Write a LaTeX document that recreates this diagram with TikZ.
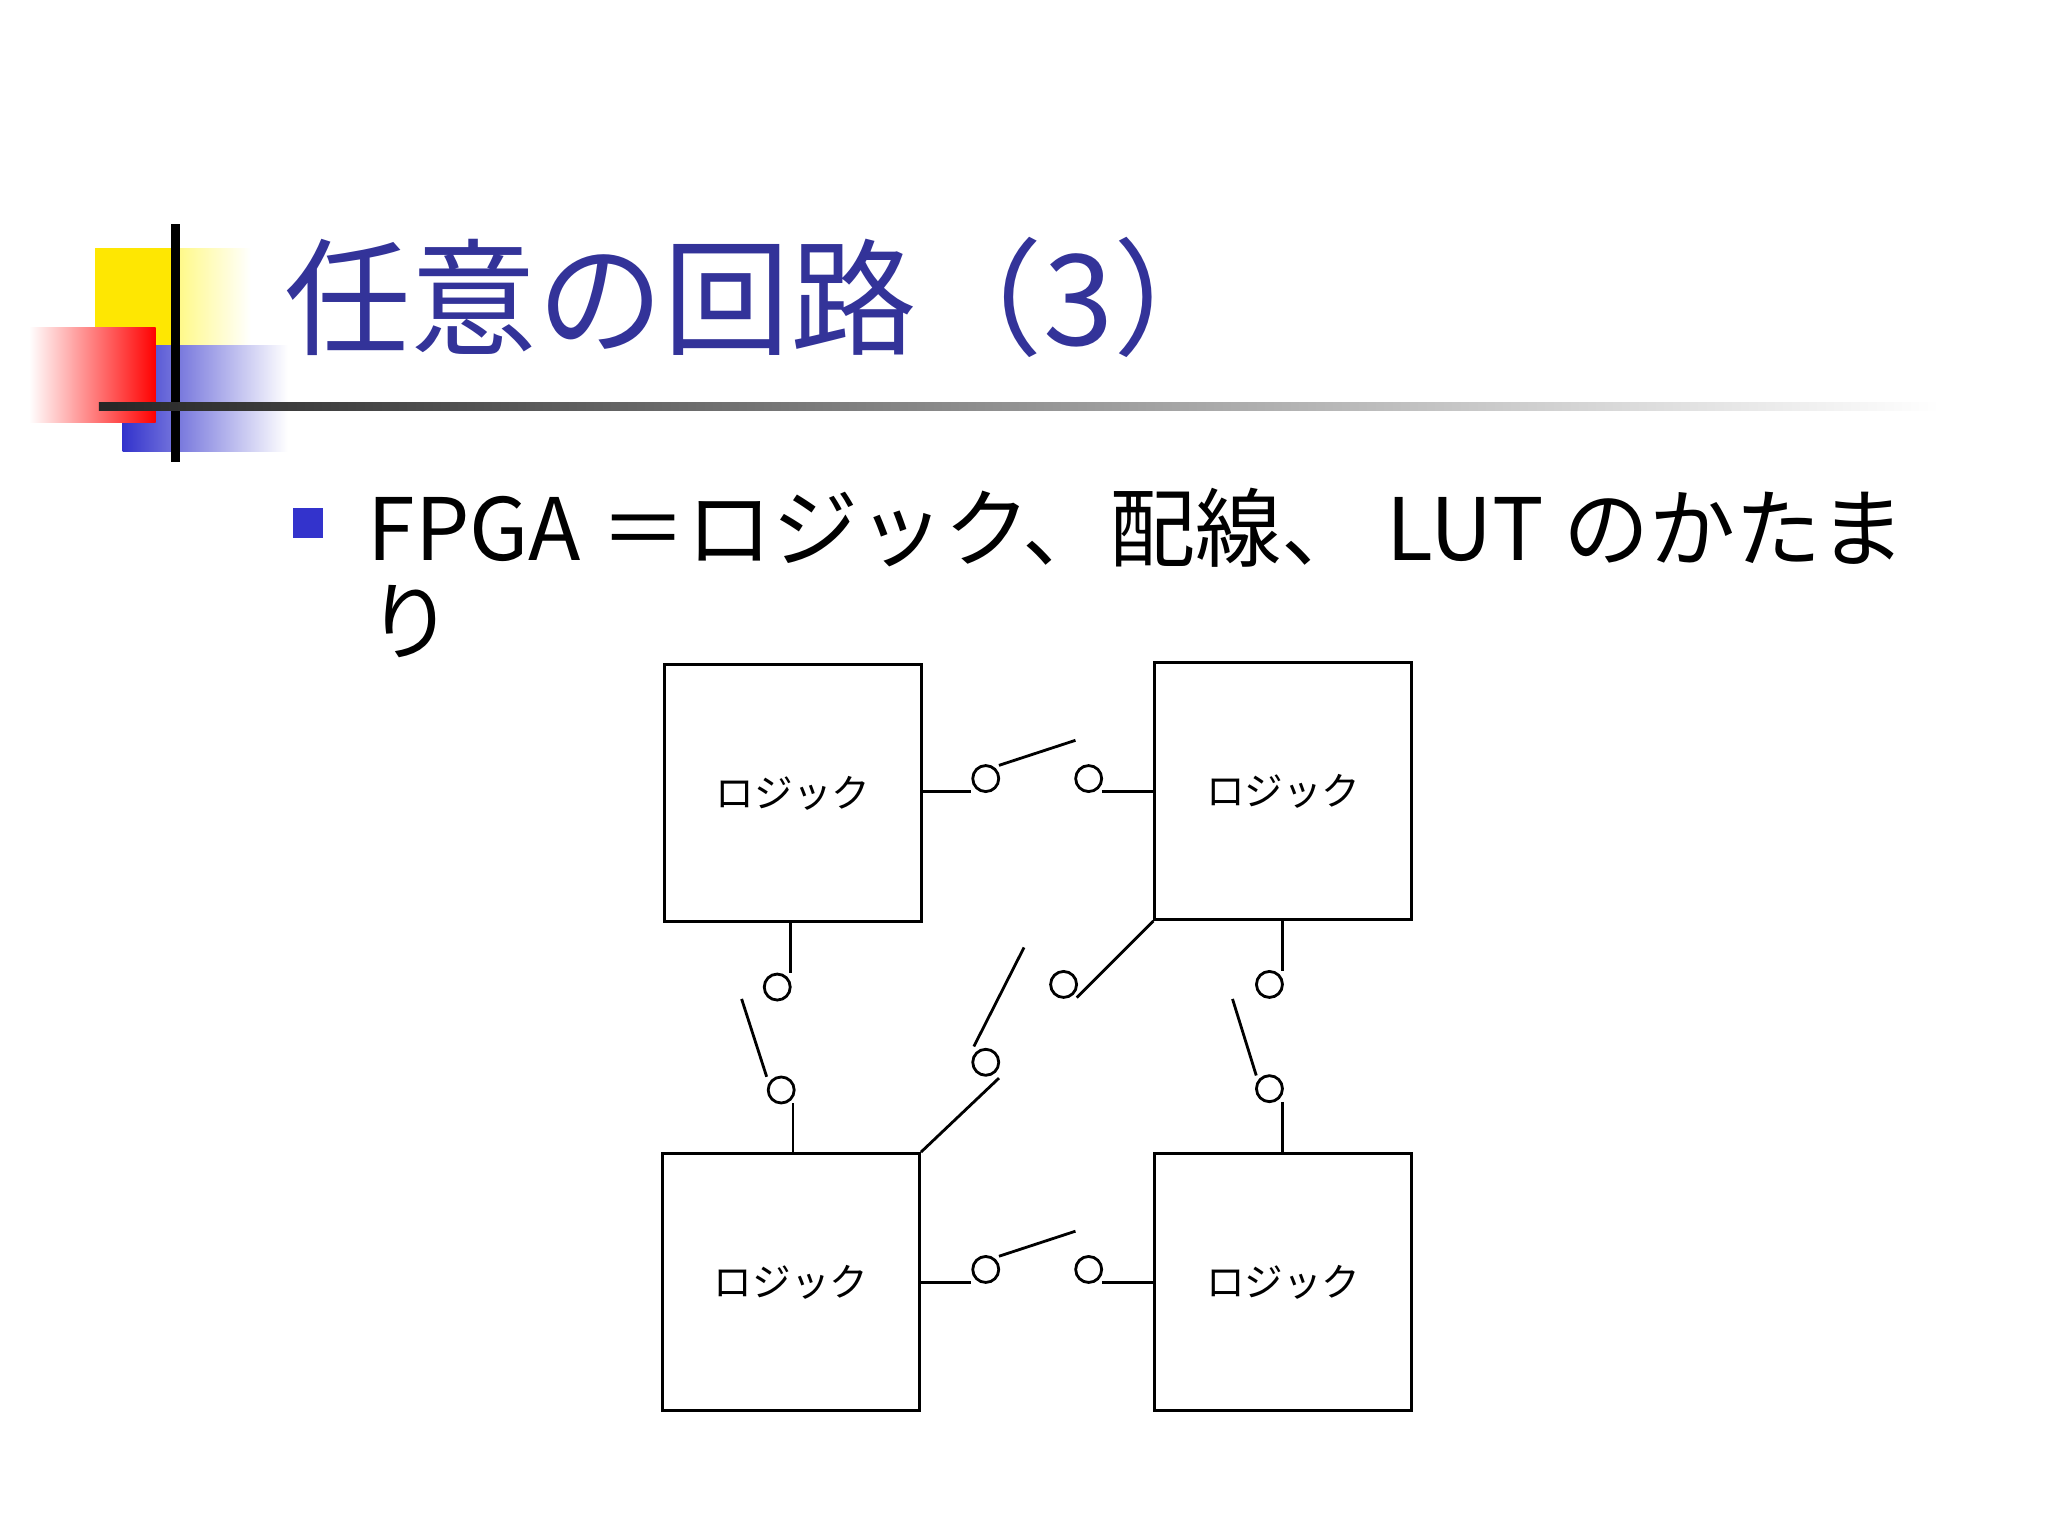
\documentclass[tikz,border=0pt]{standalone}
\usepackage{fontspec}
\newfontfamily\cjk{Noto Sans CJK JP}
\setmainfont{DejaVu Sans}
\usetikzlibrary{shadings}
\definecolor{tblue}{RGB}{51,51,153}
\definecolor{bblue}{RGB}{51,51,204}
\begin{document}
\begin{tikzpicture}[x=0.013196cm,y=-0.013196cm,
  box/.style={draw,line width=0.8pt,minimum size=2.57cm,inner sep=0,font=\cjk\fontsize{11}{13}\selectfont},
  sw/.style={circle,draw,line width=0.8pt,minimum size=0.26cm,inner sep=0},
  wire/.style={line width=0.8pt}]
\useasboundingbox (0,0) rectangle (1552,1164);
\fill[white] (0,0) rectangle (1552,1164);
% decoration
\shade[left color=yellow!90!orange,right color=white] (72,188) rectangle (190,300);
\fill[yellow!90!orange] (72,188) rectangle (130,300);
\shade[left color=bblue,right color=white] (93,262) rectangle (218,342);
\shade[left color=white,right color=red] (22,248) rectangle (118,320);
\draw[line width=2.5pt] (133,170) -- (133,350);
\shade[left color=black!85,right color=white] (75,305) rectangle (1470,311);
% title
\node[anchor=base west,inner sep=0,text=tblue,font=\cjk\fontsize{36}{40}\selectfont] (title) at (215,262) {任意の回路（3）};
% bullet
\fill[bblue] (222,385) rectangle (245,408);
\node[anchor=base west,inner sep=0,font=\cjk\fontsize{24.5}{28}\selectfont] (b1) at (278,425) {FPGA ＝ロジック、配線、 LUT のかたま};
\node[anchor=base west,inner sep=0,font=\cjk\fontsize{24.5}{28}\selectfont] (b2) at (278,495) {り};
% boxes
\node[box] (tl) at (601,601) {ロジック};
\node[box] (tr) at (972.5,599.5) {ロジック};
\node[box] (bl) at (599.5,971.5) {ロジック};
\node[box] (br) at (972.5,971.5) {ロジック};
% top switch
\node[sw] (t1) at (747,590) {}; \node[sw] (t2) at (825,590) {};
\draw[wire] (tl.east |- 0,600) -- (736,600);
\draw[wire] (757,580) -- (815,561);
\draw[wire] (835,600) -- (tr.west |- 0,600);
% bottom switch
\node[sw] (u1) at (747,962) {}; \node[sw] (u2) at (825,962) {};
\draw[wire] (bl.east |- 0,972) -- (736,972);
\draw[wire] (757,952) -- (815,933);
\draw[wire] (835,972) -- (br.west |- 0,972);
% left switch
\node[sw] (l1) at (589,748) {}; \node[sw] (l2) at (592,826) {};
\draw[wire] (599,699) -- (599,737);
\draw[wire] (562,757) -- (581,816);
\draw[wire] (601,836) -- (601,874);
% right switch
\node[sw] (r1) at (962,746) {}; \node[sw] (r2) at (962,825) {};
\draw[wire] (972,697) -- (972,736);
\draw[wire] (934,757) -- (952,815);
\draw[wire] (972,835) -- (972,874);
% diagonal switch
\node[sw] (d1) at (806,746) {}; \node[sw] (d2) at (747,805) {};
\draw[wire] (tr.south west) -- (816,756);
\draw[wire] (776,718) -- (738,793);
\draw[wire] (757,817) -- (bl.north east);
\end{tikzpicture}
\end{document}
